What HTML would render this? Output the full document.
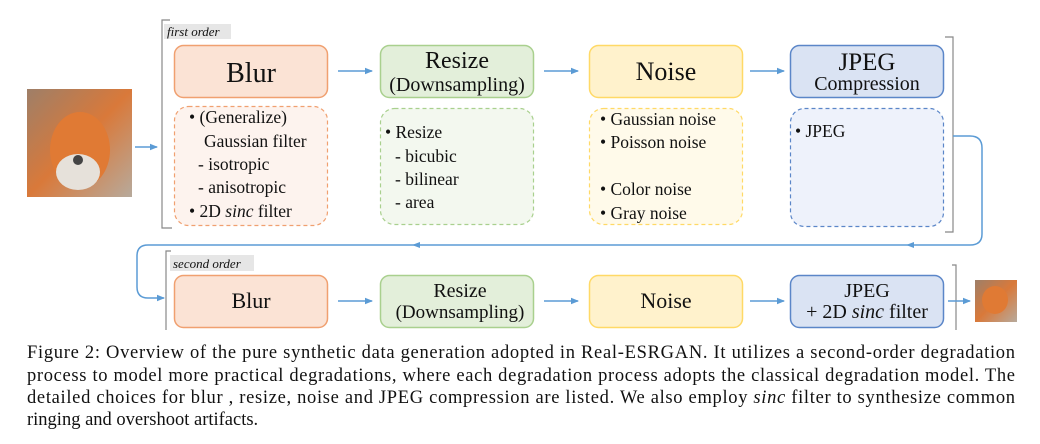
<!DOCTYPE html>
<html><head><style>
body{margin:0;background:#fff;width:1040px;height:439px;overflow:hidden}
svg text{font-family:"Liberation Serif",serif;fill:#111}
</style></head><body>
<svg width="1040" height="439" viewBox="0 0 1040 439" xmlns="http://www.w3.org/2000/svg">
<defs>
<marker id="ah" markerWidth="8" markerHeight="8" refX="7" refY="4" orient="auto" markerUnits="userSpaceOnUse"><path d="M0,0.8 L8,4 L0,7.2 Z" fill="#5b9bd5"/></marker>
<linearGradient id="fox" x1="0" y1="0" x2="1" y2="1"><stop offset="0" stop-color="#9e7f68"/><stop offset="0.5" stop-color="#d9793a"/><stop offset="1" stop-color="#b7aa9c"/></linearGradient>
</defs>
<rect x="27" y="89" width="105" height="108" fill="url(#fox)"/>
<ellipse cx="80" cy="150" rx="30" ry="38" fill="#e07a34"/>
<ellipse cx="78" cy="172" rx="22" ry="18" fill="#e6e1da"/>
<circle cx="78" cy="160" r="5" fill="#444"/>
<rect x="975" y="280" width="42" height="42" fill="url(#fox)"/>
<ellipse cx="995" cy="300" rx="13" ry="14" fill="#e07a34"/>
<line x1="135" y1="147" x2="157" y2="147" stroke="#5b9bd5" stroke-width="1.5" marker-end="url(#ah)"/>
<path d="M170,20 H162 V228 H172" fill="none" stroke="#888" stroke-width="1.2"/>
<path d="M945,37 H953 V232 H945" fill="none" stroke="#888" stroke-width="1.2"/>
<path d="M171,251 H166 V330" fill="none" stroke="#888" stroke-width="1.2"/>
<path d="M952,265 H956 V330" fill="none" stroke="#888" stroke-width="1.2"/>
<rect x="164" y="24" width="67" height="15" fill="#e6e6e6"/>
<text x="167" y="36" font-size="13" font-style="italic">first order</text>
<rect x="170" y="255" width="84" height="16" fill="#e6e6e6"/>
<text x="173" y="268" font-size="13" font-style="italic">second order</text>
<rect x="174.5" y="45.5" width="153" height="52" rx="9" fill="#fbe3d5" stroke="#f0a070" stroke-width="1.5"/>
<text x="251" y="82" font-size="28" text-anchor="middle">Blur</text>
<rect x="380.5" y="45.5" width="153" height="52" rx="9" fill="#e3efda" stroke="#a9d08e" stroke-width="1.5"/>
<text x="457" y="68" font-size="24" text-anchor="middle">Resize</text>
<text x="457" y="91" font-size="20" text-anchor="middle">(Downsampling)</text>
<rect x="589.5" y="45.5" width="153" height="52" rx="9" fill="#fff2cc" stroke="#ffd966" stroke-width="1.5"/>
<text x="666" y="80" font-size="26" text-anchor="middle">Noise</text>
<rect x="790.5" y="45.5" width="153" height="52" rx="9" fill="#dae3f3" stroke="#5b86c8" stroke-width="1.5"/>
<text x="867" y="70" font-size="25" text-anchor="middle">JPEG</text>
<text x="867" y="90" font-size="20" text-anchor="middle">Compression</text>
<line x1="338" y1="71" x2="372" y2="71" stroke="#5b9bd5" stroke-width="1.5" marker-end="url(#ah)"/>
<line x1="544" y1="71" x2="578" y2="71" stroke="#5b9bd5" stroke-width="1.5" marker-end="url(#ah)"/>
<line x1="750" y1="71" x2="784" y2="71" stroke="#5b9bd5" stroke-width="1.5" marker-end="url(#ah)"/>
<rect x="174.5" y="106.5" width="153" height="119" rx="14" fill="#fdf3ee" stroke="#f0a070" stroke-width="1.2" stroke-dasharray="4,3"/>
<g font-size="17.5">
<text x="189" y="123">•&#160;(Generalize)</text>
<text x="204" y="147">Gaussian filter</text>
<text x="198" y="170">- isotropic</text>
<text x="198" y="193">- anisotropic</text>
<text x="189" y="217">•&#160;2D <tspan font-style="italic">sinc</tspan> filter</text>
</g>
<rect x="380.5" y="108.5" width="153" height="116" rx="14" fill="#f3f8ef" stroke="#a9d08e" stroke-width="1.2" stroke-dasharray="4,3"/>
<g font-size="17.5">
<text x="385" y="138">•&#160;Resize</text>
<text x="395" y="162">- bicubic</text>
<text x="395" y="185">- bilinear</text>
<text x="395" y="208">- area</text>
</g>
<rect x="589.5" y="108.5" width="153" height="116" rx="14" fill="#fffaea" stroke="#ffd966" stroke-width="1.2" stroke-dasharray="4,3"/>
<g font-size="17.5">
<text x="600" y="125">•&#160;Gaussian noise</text>
<text x="600" y="148">•&#160;Poisson noise</text>
<text x="600" y="195">•&#160;Color noise</text>
<text x="600" y="219">•&#160;Gray noise</text>
</g>
<rect x="790.5" y="108.5" width="153" height="118" rx="14" fill="#eef2fb" stroke="#5b86c8" stroke-width="1.2" stroke-dasharray="4,3"/>
<text x="795" y="137" font-size="17.5">•&#160;JPEG</text>
<path d="M953,136 H970 Q982,136 982,148 V234 Q982,245 970,245 H148 Q137,245 137,256 V287 Q137,298 148,298 H164" fill="none" stroke="#5b9bd5" stroke-width="1.5" marker-end="url(#ah)"/>
<path d="M906,245 L914,242 L914,248 Z" fill="#5b9bd5"/>
<path d="M412,245 L420,242 L420,248 Z" fill="#5b9bd5"/>
<rect x="174.5" y="275.5" width="153" height="52" rx="9" fill="#fbe3d5" stroke="#f0a070" stroke-width="1.5"/>
<text x="251" y="308" font-size="22" text-anchor="middle">Blur</text>
<rect x="380.5" y="275.5" width="153" height="52" rx="9" fill="#e3efda" stroke="#a9d08e" stroke-width="1.5"/>
<text x="460" y="297" font-size="20" text-anchor="middle">Resize</text>
<text x="460" y="318" font-size="19" text-anchor="middle">(Downsampling)</text>
<rect x="589.5" y="275.5" width="153" height="52" rx="9" fill="#fff2cc" stroke="#ffd966" stroke-width="1.5"/>
<text x="666" y="308" font-size="22" text-anchor="middle">Noise</text>
<rect x="790.5" y="275.5" width="153" height="52" rx="9" fill="#dae3f3" stroke="#5b86c8" stroke-width="1.5"/>
<text x="867" y="297" font-size="20" text-anchor="middle">JPEG</text>
<text x="867" y="318" font-size="20" text-anchor="middle">+ 2D <tspan font-style="italic">sinc</tspan> filter</text>
<line x1="338" y1="301" x2="372" y2="301" stroke="#5b9bd5" stroke-width="1.5" marker-end="url(#ah)"/>
<line x1="544" y1="301" x2="578" y2="301" stroke="#5b9bd5" stroke-width="1.5" marker-end="url(#ah)"/>
<line x1="750" y1="301" x2="784" y2="301" stroke="#5b9bd5" stroke-width="1.5" marker-end="url(#ah)"/>
<line x1="948" y1="301" x2="970" y2="301" stroke="#5b9bd5" stroke-width="1.5" marker-end="url(#ah)"/>
<g font-size="18.5">
<text x="27" y="358" textLength="988" lengthAdjust="spacing">Figure 2: Overview of the pure synthetic data generation adopted in Real-ESRGAN. It utilizes a second-order degradation</text>
<text x="27" y="381" textLength="988" lengthAdjust="spacing">process to model more practical degradations, where each degradation process adopts the classical degradation model. The</text>
<text x="27" y="403" textLength="988" lengthAdjust="spacing">detailed choices for blur , resize, noise and JPEG compression are listed. We also employ <tspan font-style="italic">sinc</tspan> filter to synthesize common</text>
<text x="27" y="425">ringing and overshoot artifacts.</text>
</g>
</svg>
</body></html>
